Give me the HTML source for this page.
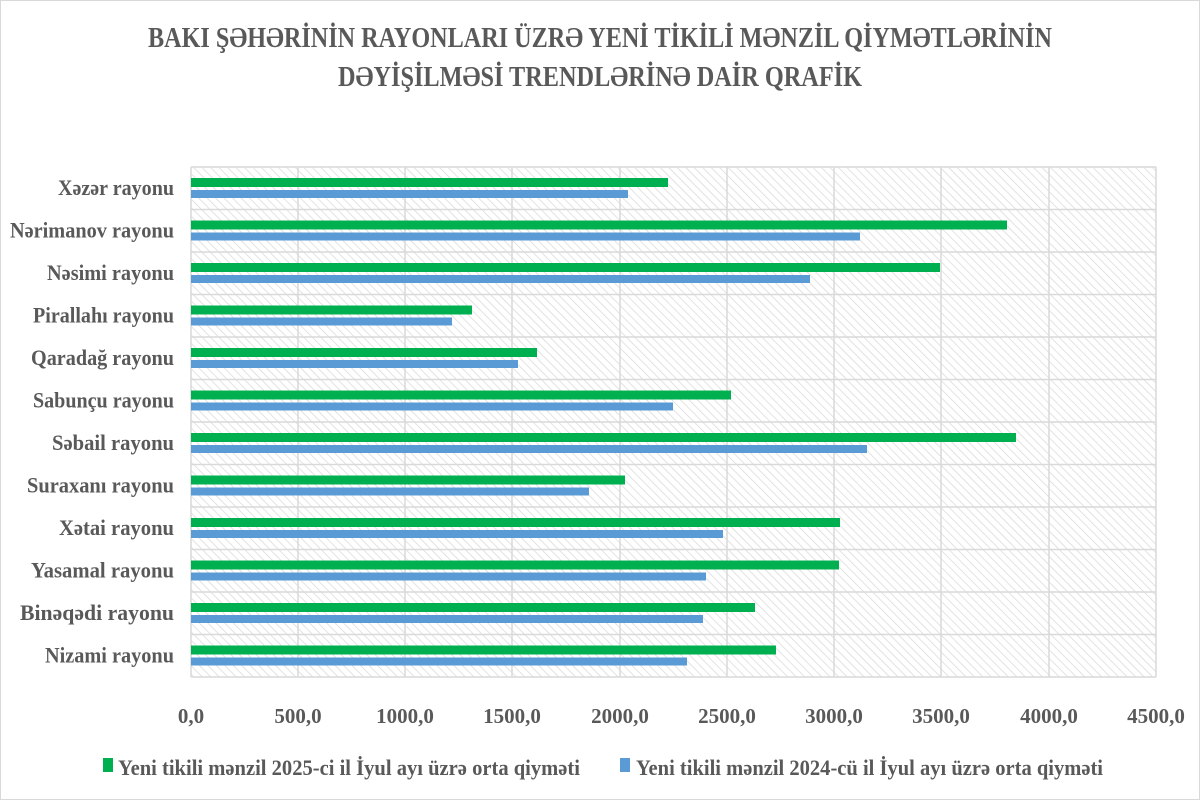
<!DOCTYPE html>
<html><head><meta charset="utf-8"><style>body{margin:0;background:#fff}svg{display:block}</style></head><body>
<svg width="1200" height="800" viewBox="0 0 1200 800" xmlns="http://www.w3.org/2000/svg" font-family="Liberation Serif, serif" font-weight="bold" fill="#595959">
<defs>
<pattern id="h" width="6" height="6" patternUnits="userSpaceOnUse" patternTransform="rotate(-45)">
<rect width="6" height="6" fill="#fff"/><line x1="0" y1="0" x2="0" y2="6" stroke="#d9d9d9" stroke-width="1.5"/>
</pattern>
</defs>
<rect x="0.5" y="0.5" width="1199" height="799" fill="#fff" stroke="#d9d9d9"/>
<text x="600" y="47" font-size="28" text-anchor="middle" textLength="904" lengthAdjust="spacingAndGlyphs">BAKI ŞƏHƏRİNİN RAYONLARI ÜZRƏ YENİ TİKİLİ MƏNZİL QİYMƏTLƏRİNİN</text>
<text x="600" y="86" font-size="28" text-anchor="middle" textLength="524" lengthAdjust="spacingAndGlyphs">DƏYİŞİLMƏSİ TRENDLƏRİNƏ DAİR QRAFİK</text>
<rect x="191" y="167" width="965" height="510" fill="url(#h)"/>
<g stroke="#d9d9d9" stroke-width="1.5">
<line x1="191" y1="167" x2="1156" y2="167"/><line x1="191" y1="209.5" x2="1156" y2="209.5"/><line x1="191" y1="252" x2="1156" y2="252"/><line x1="191" y1="294.5" x2="1156" y2="294.5"/><line x1="191" y1="337" x2="1156" y2="337"/><line x1="191" y1="379.5" x2="1156" y2="379.5"/><line x1="191" y1="422" x2="1156" y2="422"/><line x1="191" y1="464.5" x2="1156" y2="464.5"/><line x1="191" y1="507" x2="1156" y2="507"/><line x1="191" y1="549.5" x2="1156" y2="549.5"/><line x1="191" y1="592" x2="1156" y2="592"/><line x1="191" y1="634.5" x2="1156" y2="634.5"/><line x1="191" y1="677" x2="1156" y2="677"/>
<line x1="298" y1="167" x2="298" y2="677"/><line x1="405" y1="167" x2="405" y2="677"/><line x1="512" y1="167" x2="512" y2="677"/><line x1="620" y1="167" x2="620" y2="677"/><line x1="727" y1="167" x2="727" y2="677"/><line x1="834" y1="167" x2="834" y2="677"/><line x1="941" y1="167" x2="941" y2="677"/><line x1="1049" y1="167" x2="1049" y2="677"/><line x1="1156" y1="167" x2="1156" y2="677"/>
<line x1="191" y1="167" x2="191" y2="677"/>
</g>
<g>
<rect x="191" y="178" width="477" height="9" fill="#00b050"/><rect x="191" y="190" width="437" height="8" fill="#5b9bd5"/>
<rect x="191" y="220.5" width="816" height="9" fill="#00b050"/><rect x="191" y="232.5" width="669" height="8" fill="#5b9bd5"/>
<rect x="191" y="263" width="749" height="9" fill="#00b050"/><rect x="191" y="275" width="619" height="8" fill="#5b9bd5"/>
<rect x="191" y="305.5" width="281" height="9" fill="#00b050"/><rect x="191" y="317.5" width="261" height="8" fill="#5b9bd5"/>
<rect x="191" y="348" width="346" height="9" fill="#00b050"/><rect x="191" y="360" width="327" height="8" fill="#5b9bd5"/>
<rect x="191" y="390.5" width="540" height="9" fill="#00b050"/><rect x="191" y="402.5" width="482" height="8" fill="#5b9bd5"/>
<rect x="191" y="433" width="825" height="9" fill="#00b050"/><rect x="191" y="445" width="676" height="8" fill="#5b9bd5"/>
<rect x="191" y="475.5" width="434" height="9" fill="#00b050"/><rect x="191" y="487.5" width="398" height="8" fill="#5b9bd5"/>
<rect x="191" y="518" width="649" height="9" fill="#00b050"/><rect x="191" y="530" width="532" height="8" fill="#5b9bd5"/>
<rect x="191" y="560.5" width="648" height="9" fill="#00b050"/><rect x="191" y="572.5" width="515" height="8" fill="#5b9bd5"/>
<rect x="191" y="603" width="564" height="9" fill="#00b050"/><rect x="191" y="615" width="512" height="8" fill="#5b9bd5"/>
<rect x="191" y="645.5" width="585" height="9" fill="#00b050"/><rect x="191" y="657.5" width="496" height="8" fill="#5b9bd5"/>
</g>
<g font-size="22" text-anchor="end">
<text x="174" y="195" textLength="116" lengthAdjust="spacingAndGlyphs">Xəzər rayonu</text>
<text x="174" y="237.5" textLength="164" lengthAdjust="spacingAndGlyphs">Nərimanov rayonu</text>
<text x="174" y="280" textLength="127" lengthAdjust="spacingAndGlyphs">Nəsimi rayonu</text>
<text x="174" y="322.5" textLength="141" lengthAdjust="spacingAndGlyphs">Pirallahı rayonu</text>
<text x="174" y="365" textLength="143" lengthAdjust="spacingAndGlyphs">Qaradağ rayonu</text>
<text x="174" y="407.5" textLength="141" lengthAdjust="spacingAndGlyphs">Sabunçu rayonu</text>
<text x="174" y="450" textLength="122" lengthAdjust="spacingAndGlyphs">Səbail rayonu</text>
<text x="174" y="492.5" textLength="147" lengthAdjust="spacingAndGlyphs">Suraxanı rayonu</text>
<text x="174" y="535" textLength="115" lengthAdjust="spacingAndGlyphs">Xətai rayonu</text>
<text x="174" y="577.5" textLength="143" lengthAdjust="spacingAndGlyphs">Yasamal rayonu</text>
<text x="174" y="620" textLength="154" lengthAdjust="spacingAndGlyphs">Binəqədi rayonu</text>
<text x="174" y="662.5" textLength="129" lengthAdjust="spacingAndGlyphs">Nizami rayonu</text>
</g>
<g font-size="21" text-anchor="middle">
<text x="191" y="723">0,0</text><text x="298" y="723">500,0</text><text x="405" y="723">1000,0</text><text x="512" y="723">1500,0</text><text x="620" y="723">2000,0</text><text x="727" y="723">2500,0</text><text x="834" y="723">3000,0</text><text x="941" y="723">3500,0</text><text x="1049" y="723">4000,0</text><text x="1156" y="723">4500,0</text>
</g>
<rect x="103" y="758" width="10" height="14" fill="#00b050"/>
<text x="118" y="775" font-size="22" textLength="462" lengthAdjust="spacingAndGlyphs">Yeni tikili mənzil 2025-ci il  İyul ayı üzrə orta qiyməti</text>
<rect x="620" y="758" width="10" height="14" fill="#5b9bd5"/>
<text x="636" y="775" font-size="22" textLength="467" lengthAdjust="spacingAndGlyphs">Yeni tikili mənzil 2024-cü il  İyul ayı üzrə orta qiyməti</text>
</svg>
</body></html>
